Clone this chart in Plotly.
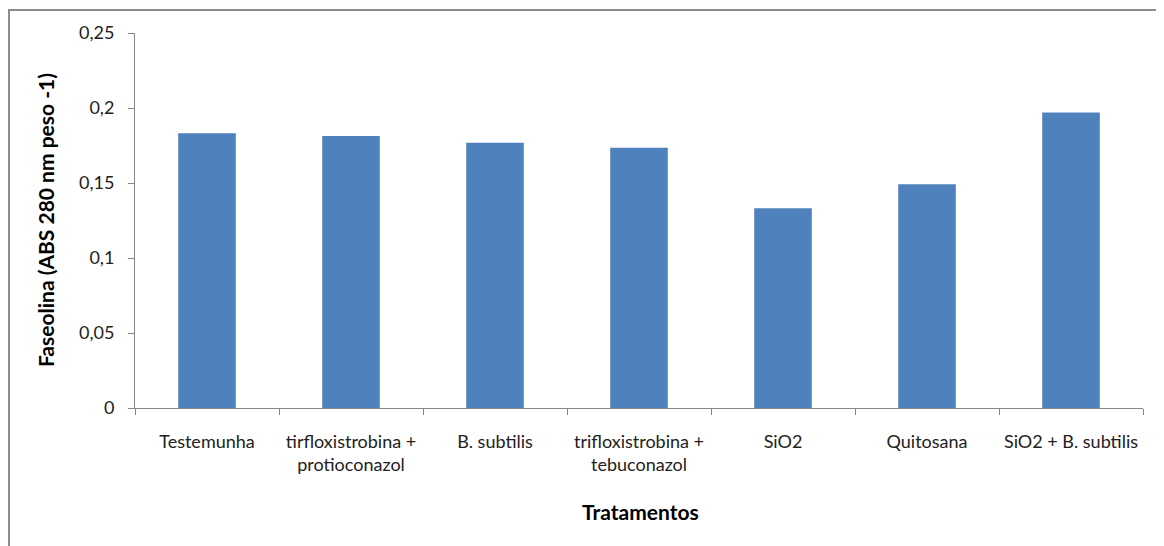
import plotly.graph_objects as go

categories = [
    "Testemunha",
    "tirfloxistrobina +<br>protioconazol",
    "B. subtilis",
    "trifloxistrobina +<br>tebuconazol",
    "SiO2",
    "Quitosana",
    "SiO2 + B. subtilis",
]
values = [0.1831, 0.1813, 0.1769, 0.1735, 0.1331, 0.1491, 0.1970]
ytick_vals = [0, 0.05, 0.1, 0.15, 0.2, 0.25]
ytick_text = ["0", "0,05", "0,1", "0,15", "0,2", "0,25"]
y_title = "Faseolina (ABS 280 nm peso -1)"
x_title = "Tratamentos"

FONT = "Lato"
AXIS_COLOR = "#868686"
TEXT_COLOR = "#222222"

fig = go.Figure(
    go.Bar(
        x=categories,
        y=values,
        marker=dict(color="#4F81BD", line=dict(width=0)),
        width=0.4,
    )
)

fig.update_layout(
    width=1156,
    height=538,
    margin=dict(l=127, r=21, t=25, b=138),
    paper_bgcolor="white",
    plot_bgcolor="white",
    showlegend=False,
    font=dict(family=FONT, size=18, color=TEXT_COLOR),
    xaxis=dict(
        type="category",
        showline=True,
        linecolor=AXIS_COLOR,
        linewidth=1,
        ticks="outside",
        tickson="boundaries",
        ticklen=6,
        tickcolor=AXIS_COLOR,
        showgrid=False,
        zeroline=False,
        tickfont=dict(family=FONT, size=18, color=TEXT_COLOR),
        ticklabelstandoff=17,
    ),
    yaxis=dict(
        range=[0, 0.25],
        tickvals=ytick_vals,
        ticktext=ytick_text,
        showline=True,
        linecolor=AXIS_COLOR,
        linewidth=1,
        ticks="outside",
        ticklen=6,
        tickcolor=AXIS_COLOR,
        showgrid=False,
        zeroline=False,
        tickfont=dict(family=FONT, size=18, color=TEXT_COLOR),
        ticklabelstandoff=10,
    ),
    annotations=[
        dict(
            text="<b>" + y_title + "</b>",
            xref="paper", yref="paper",
            x=-0.0893, y=0.501,
            textangle=-90,
            showarrow=False,
            font=dict(family=FONT, size=21, color="#000000"),
            xanchor="center", yanchor="middle",
        ),
        dict(
            text="<b>" + x_title + "</b>",
            xref="paper", yref="paper",
            x=0.501, y=-0.2747,
            showarrow=False,
            font=dict(family=FONT, size=21, color="#000000"),
            xanchor="center", yanchor="middle",
        ),
    ],
    shapes=[
        dict(
            type="rect",
            xref="paper", yref="paper",
            x0=-0.125, x1=1.05, y0=-0.42, y1=1.0613,
            line=dict(color="#8c8c8c", width=2),
            fillcolor="rgba(0,0,0,0)",
            layer="below",
        )
    ],
)

fig.write_html("out.html")
